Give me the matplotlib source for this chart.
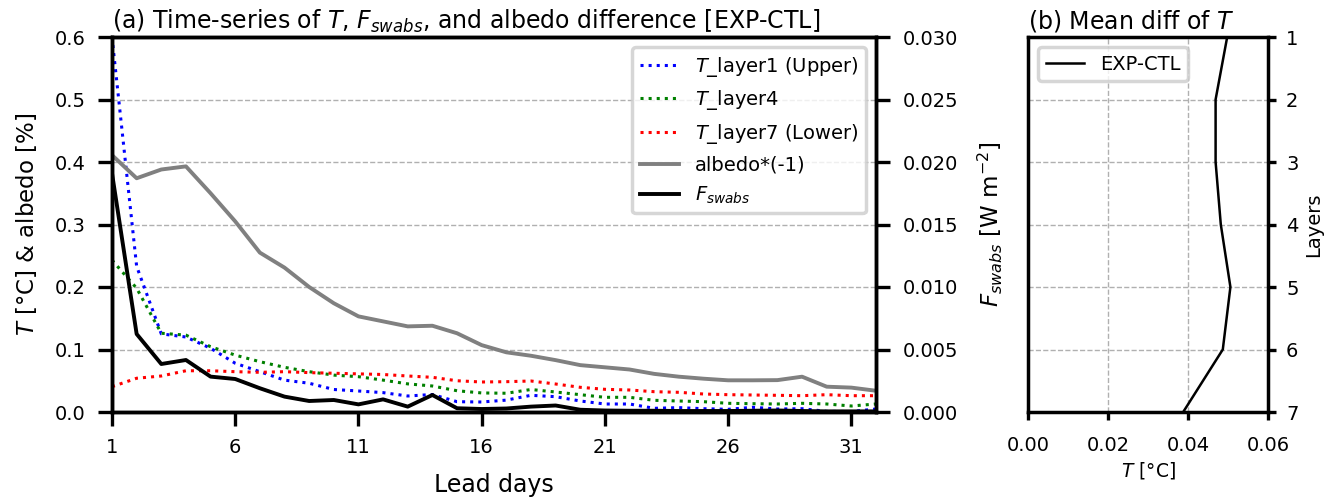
import matplotlib
matplotlib.use("Agg")
import matplotlib.pyplot as plt
import numpy as np

days = list(range(1, 33))

T_layer1 = [0.600, 0.233, 0.125, 0.120, 0.102, 0.078, 0.0645, 0.051, 0.046, 0.036,
            0.0336, 0.031, 0.0256, 0.028, 0.0165, 0.0160, 0.019, 0.0267, 0.0245, 0.0176,
            0.0128, 0.0128, 0.0059, 0.0070, 0.0053, 0.0043, 0.0075, 0.0048, 0.0053, 0.0010,
            0.0008, 0.0048]
T_layer4 = [0.243, 0.198, 0.126, 0.123, 0.1045, 0.091, 0.0805, 0.0715, 0.0645, 0.059,
            0.0565, 0.051, 0.045, 0.0416, 0.034, 0.0305, 0.030, 0.036, 0.032, 0.0277,
            0.0235, 0.0235, 0.0187, 0.0176, 0.0165, 0.0139, 0.0133, 0.0128, 0.0139, 0.0128,
            0.0096, 0.0128]
T_layer7 = [0.0405, 0.054, 0.0576, 0.066, 0.066, 0.0645, 0.0635, 0.0645, 0.063, 0.062,
            0.061, 0.060, 0.0576, 0.0555, 0.050, 0.048, 0.0485, 0.0496, 0.0448, 0.0395,
            0.0363, 0.0352, 0.0325, 0.0315, 0.0288, 0.0277, 0.0272, 0.0267, 0.0261, 0.0277,
            0.0261, 0.0261]
albedo_neg = [0.411, 0.374, 0.388, 0.393, 0.350, 0.305, 0.255, 0.231, 0.200, 0.174,
              0.153, 0.145, 0.137, 0.138, 0.126, 0.107, 0.0955, 0.090, 0.083, 0.075,
              0.0715, 0.068, 0.061, 0.0565, 0.0533, 0.0507, 0.0507, 0.051, 0.0565, 0.0405,
              0.039, 0.034]
F_swabs = [0.0191, 0.00624, 0.00384, 0.00416, 0.00283, 0.00264, 0.0019, 0.00123, 0.00088, 0.00096,
           0.00061, 0.00101, 0.00043, 0.00136, 0.00030, 0.00024, 0.00028, 0.00043, 0.00052, 0.00018,
           0.00012, 0.00010, 0.00010, 0.00008, 0.00008, 0.00008, 0.00010, 0.00012, 0.00008, 0.00005,
           0.00005, 0.00005]

layers = [1, 2, 3, 4, 5, 6, 7]
T_mean_diff = [0.0498, 0.0469, 0.0469, 0.0482, 0.0506, 0.0487, 0.0388]

xticks_a = [1, 6, 11, 16, 21, 26, 31]
yticks_left = [0.0, 0.1, 0.2, 0.3, 0.4, 0.5, 0.6]
yticks_right = [0.000, 0.005, 0.010, 0.015, 0.020, 0.025, 0.030]
xticks_b = [0.00, 0.02, 0.04, 0.06]

plt.rcParams['font.family'] = ['DejaVu Sans']
plt.rcParams['font.size'] = 14
plt.rcParams['axes.linewidth'] = 2.5
plt.rcParams['xtick.major.width'] = 2.4
plt.rcParams['ytick.major.width'] = 2.4
plt.rcParams['xtick.major.size'] = 10
plt.rcParams['ytick.major.size'] = 10
plt.rcParams['xtick.major.pad'] = 8.5
plt.rcParams['ytick.major.pad'] = 9
plt.rcParams['xtick.labelsize'] = 14
plt.rcParams['ytick.labelsize'] = 14

W, H = 1341, 500
fig = plt.figure(figsize=(W / 100, H / 100), dpi=100)

ax = fig.add_axes([112 / W, (500 - 412) / H, (876 - 112) / W, (412 - 37) / H])
ax2 = ax.twinx()

l1, = ax.plot(days, T_layer1, ':', color='blue', lw=2.2, label='$T$_layer1 (Upper)')
l2, = ax.plot(days, T_layer4, ':', color='green', lw=2.2, label='$T$_layer4')
l3, = ax.plot(days, T_layer7, ':', color='red', lw=2.2, label='$T$_layer7 (Lower)')
l4, = ax.plot(days, albedo_neg, '-', color='gray', lw=2.8, label='albedo*(-1)')
l5, = ax2.plot(days, F_swabs, '-', color='black', lw=2.8, label='$F_{swabs}$')

ax.set_xlim(1, 32)
ax.set_ylim(0, 0.6)
ax2.set_ylim(0, 0.03)
ax.set_xticks(xticks_a)
ax.set_yticks(yticks_left)
ax.set_yticklabels([f"{v:.1f}" for v in yticks_left])
ax2.set_yticks(yticks_right)
ax2.set_yticklabels([f"{v:.3f}" for v in yticks_right])
ax.yaxis.grid(True, linestyle='--', color='#b0b0b0', lw=1)
ax.set_axisbelow(True)
ax.set_xlabel('Lead days', fontsize=17, labelpad=12)
ax.set_ylabel('$T$ [°C] & albedo [%]', fontsize=16.5, labelpad=11)
ax2.set_ylabel('$F_{swabs}$ [W m$^{-2}$]', fontsize=16.5, labelpad=13)
ax.set_title('(a) Time-series of $T$, $F_{swabs}$, and albedo difference [EXP-CTL]',
             loc='left', fontsize=17)
leg = ax.legend(handles=[l1, l2, l3, l4, l5], loc='upper right', fontsize=14)
leg.get_frame().set_linewidth(2.5)
leg.get_frame().set_edgecolor('#cccccc')

# panel b
bx = fig.add_axes([1028 / W, (500 - 412) / H, (1268 - 1028) / W, (412 - 37) / H])
bx.plot(T_mean_diff, layers, '-', color='black', lw=1.8, label='EXP-CTL')
bx.set_xlim(0, 0.06)
bx.set_ylim(7, 1)
bx.set_xticks(xticks_b)
bx.set_xticklabels([f"{v:.2f}" for v in xticks_b])
bx.set_yticks(layers)
bx.yaxis.tick_right()
bx.yaxis.set_label_position('right')
bx.tick_params(axis='both', length=6, width=2.4)
bx.tick_params(axis='x', pad=11)
bx.tick_params(axis='y', pad=7)
bx.grid(True, linestyle='--', color='#b0b0b0', lw=1)
bx.set_axisbelow(True)
bx.set_xlabel('$T$ [°C]', fontsize=13.5)
bx.set_ylabel('Layers', fontsize=14)
bx.set_title('(b) Mean diff of $T$', loc='left', fontsize=17)
legb = bx.legend(loc='upper left', fontsize=14)
legb.get_frame().set_linewidth(2.5)
legb.get_frame().set_edgecolor('#cccccc')

fig.savefig('out.png', dpi=100)
